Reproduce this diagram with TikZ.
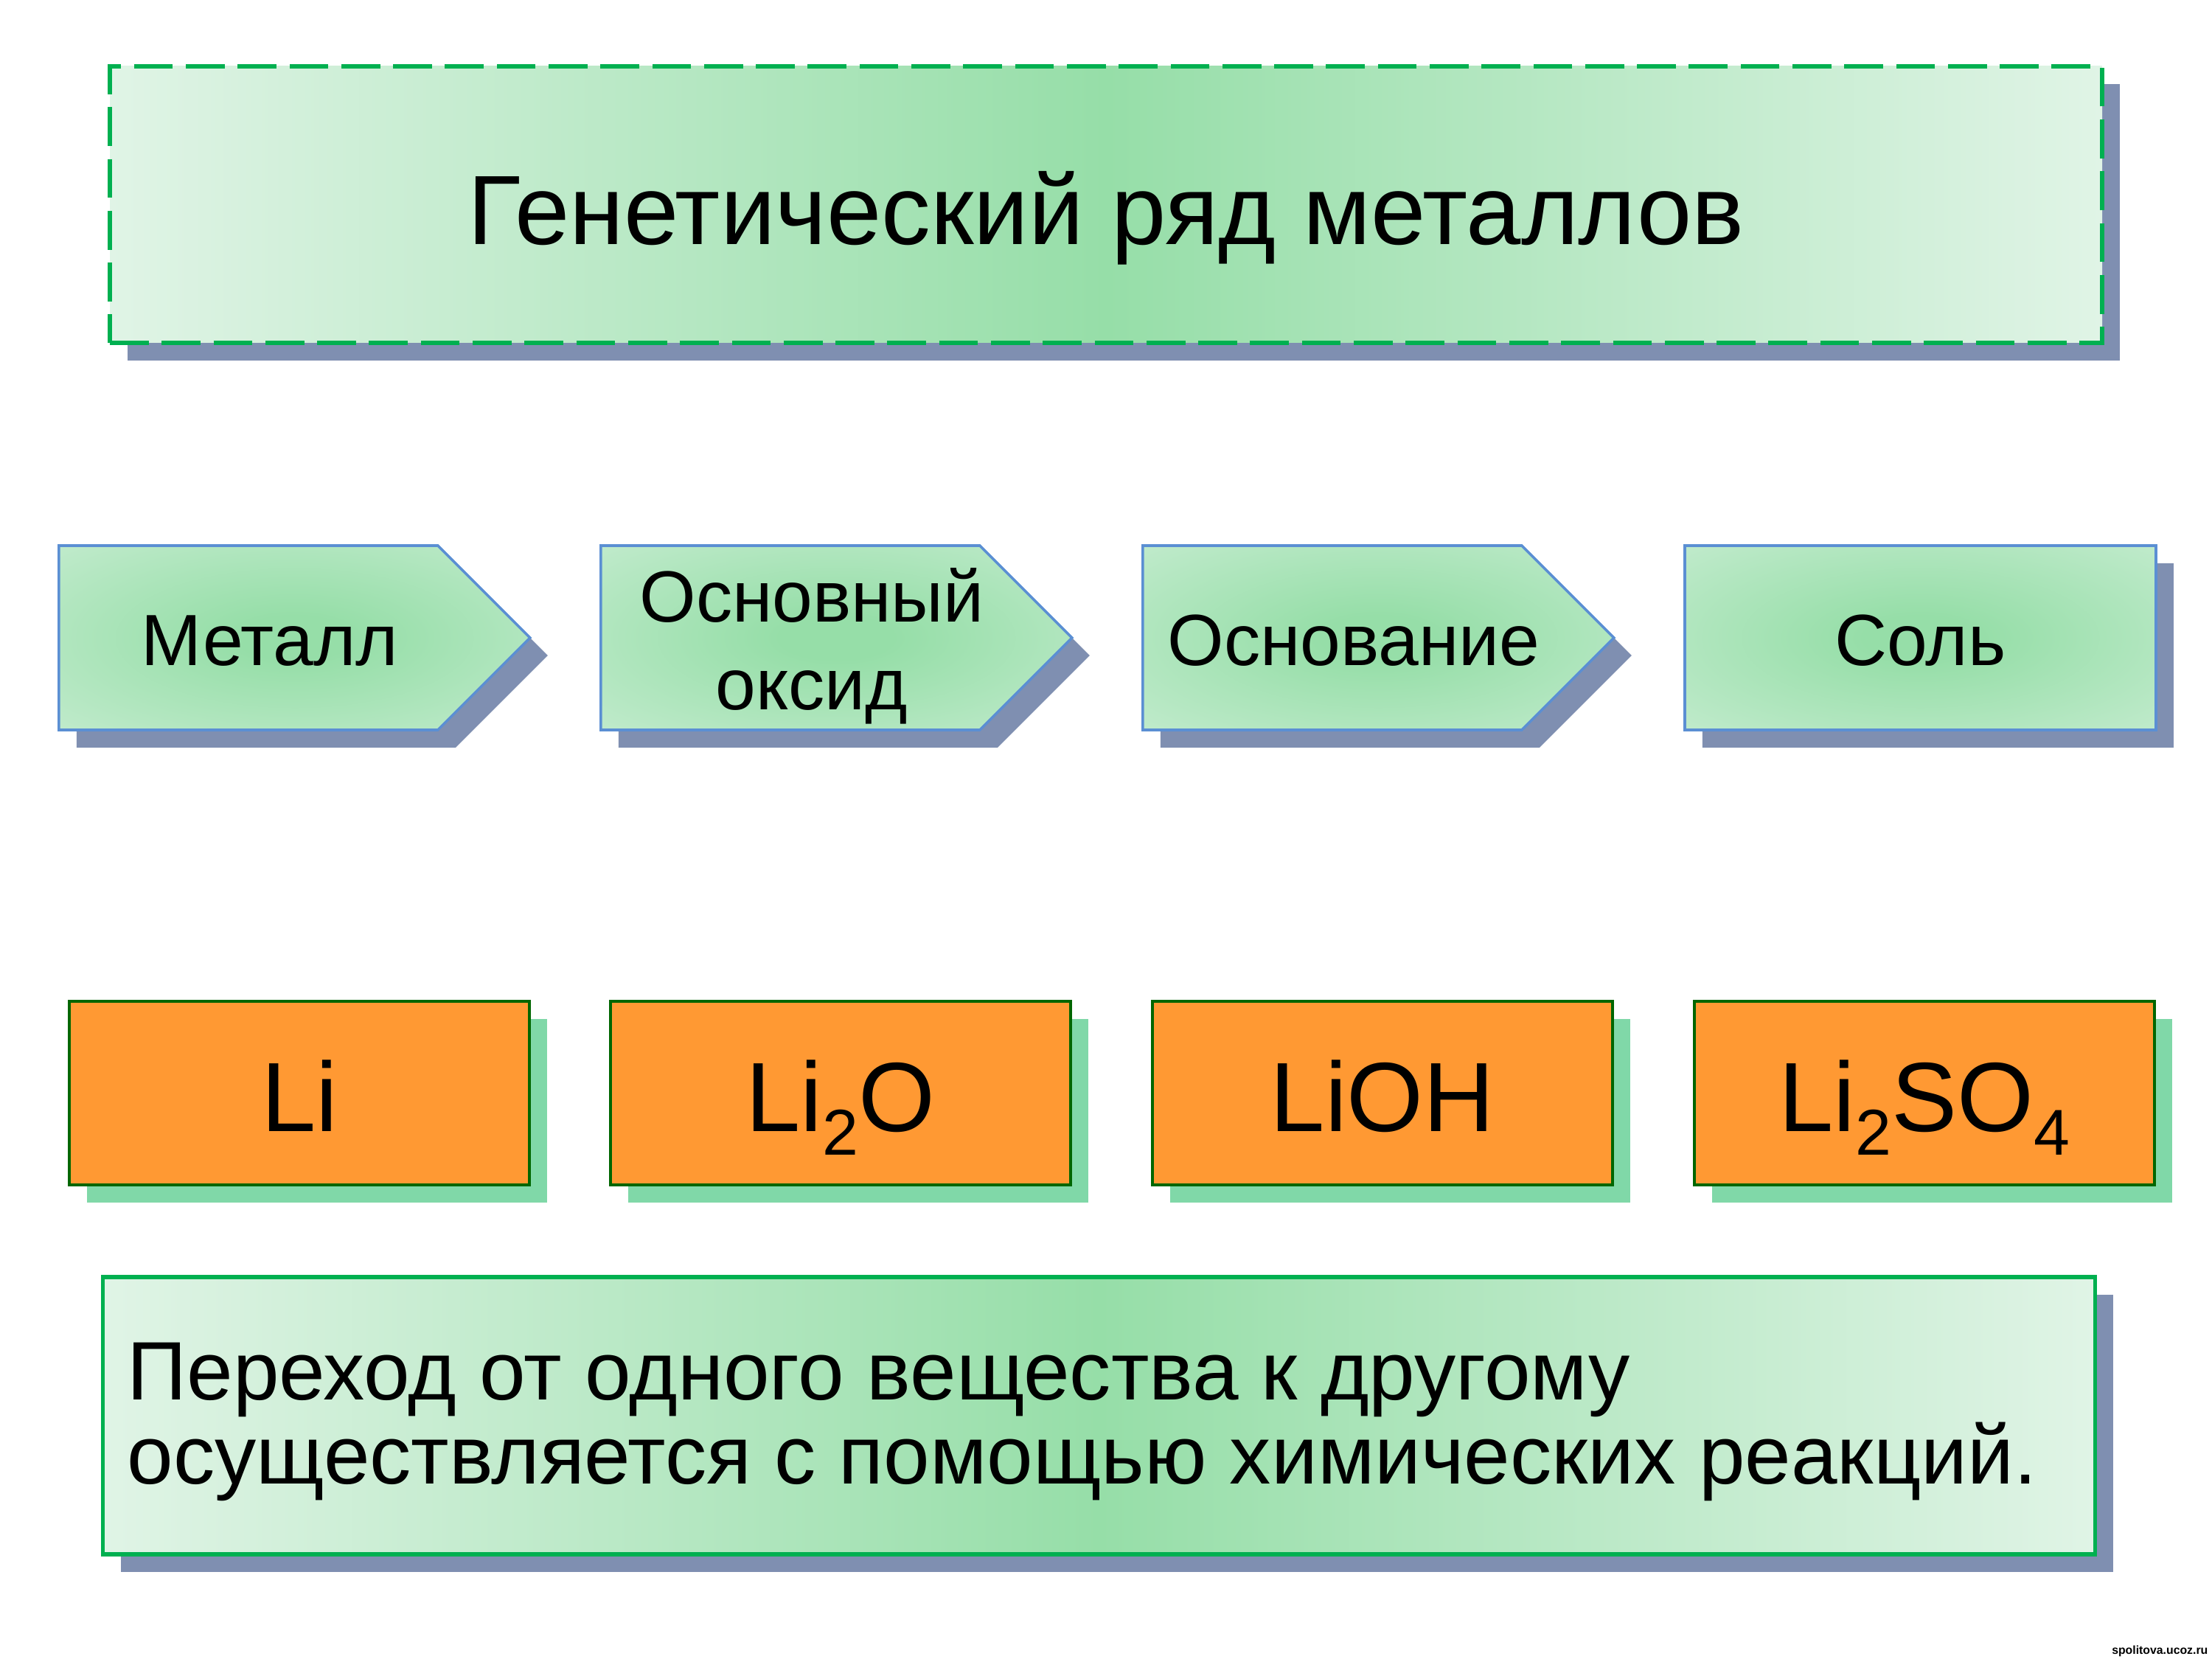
\documentclass[tikz,border=0pt]{standalone}
\usepackage{fontspec}
\setmainfont{Liberation Sans}
\usepackage{tikz}
\usetikzlibrary{
  positioning,
  shapes.symbols,
  shadows
}
\definecolor{linegreen}{HTML}{00B050}
\definecolor{palegreen}{HTML}{E0F4E6}
\definecolor{midgreen}{HTML}{96DEA8}
\definecolor{slateshadow}{HTML}{7F8FB1}
\definecolor{edgeblue}{HTML}{5B8FD3}
\definecolor{orangefill}{HTML}{FF9933}
\definecolor{darkgreen}{HTML}{006600}
\definecolor{mintshadow}{HTML}{80D8A8}
\pgfdeclareradialshading{stageglow}{\pgfpoint{0bp}{0bp}}{color(0bp)=(midgreen); color(6bp)=(midgreen); color(58bp)=(palegreen); color(75bp)=(palegreen)}
\newcommand{\ind}[1]{\raisebox{-0.32cm}{\fontsize{25}{25}\selectfont #1}}
\tikzset{
  shadowed/.style={drop shadow={shadow xshift=0.24cm,shadow yshift=-0.24cm,fill=#1,opacity=1}},
  greenfill/.style={left color=palegreen,right color=palegreen,middle color=midgreen},
  headbox/.style={rectangle,minimum width=27.02cm,minimum height=3.75cm,greenfill,
    draw=linegreen,line width=1.6pt,dash pattern=on 15pt off 5pt,shadowed=slateshadow},
  notebox/.style={headbox,solid,minimum height=3.76cm},
  stagebox/.style={signal,signal to=east,minimum width=6.39cm,minimum height=2.5cm,anchor=west,
    shading=stageglow,draw=edgeblue,line width=1pt,shadowed=slateshadow},
  endbox/.style={stagebox,signal to=nowhere},
  formbox/.style={rectangle,minimum width=6.24cm,minimum height=2.49cm,fill=orangefill,
    draw=darkgreen,line width=1pt,shadowed=mintshadow},
  stagelbl/.style={anchor=base,align=center,font=\fontsize{28}{34}\selectfont},
  formlbl/.style={font=\fontsize{38}{40}\selectfont}
}
\begin{document}
\begin{tikzpicture}
  \useasboundingbox (0,0) rectangle (30,-22.5);
  \node[headbox] (head) at (15,-2.775) {};
  \node[anchor=base,font=\fontsize{38}{42}\selectfont] (title) at (15,-3.32) {Генетический ряд металлов};

  \node[stagebox] (metal) at (0.78,-8.65) {};
  \node[stagebox] (oxide) at (8.13,-8.65) {};
  \node[stagebox] (base) at (15.48,-8.65) {};
  \node[endbox] (salt) at (22.83,-8.65) {};
  \node[stagelbl] (metallbl) at (3.66,-9.03) {Металл};
  \node[stagelbl] (oxidelbl) at (11.01,-9.63) {Основный\\оксид};
  \node[stagelbl] (baselbl) at (18.36,-9.03) {Основание};
  \node[stagelbl] (saltlbl) at (salt.center |- metallbl.base) {Соль};

  \node[formbox] (li) at (4.06,-14.825) {};
  \node[formbox] (lio) at (11.40,-14.825) {};
  \node[formbox] (lioh) at (18.75,-14.825) {};
  \node[formbox] (liso) at (26.10,-14.825) {};
  \foreach \n/\t in {li/Li,lio/Li\ind{2}O,lioh/LiOH,liso/Li\ind{2}SO\ind{4}}
    \node[formlbl,anchor=base] (\n lbl) at ([yshift=-0.52cm]\n.center) {\t};

  \node[notebox] (note) at (14.905,-19.2) {};
  \node[anchor=north west,inner sep=0pt,align=left,font=\fontsize{32}{32.5}\selectfont] (notetext) at (1.72,-18.2)
    {Переход от одного вещества к другому\\осуществляется с помощью химических реакций.};

  \node[anchor=south east,inner sep=0pt,font=\fontsize{4.5}{5}\selectfont\bfseries] (mark) at (29.95,-22.47) {spolitova.ucoz.ru};
\end{tikzpicture}
\end{document}
